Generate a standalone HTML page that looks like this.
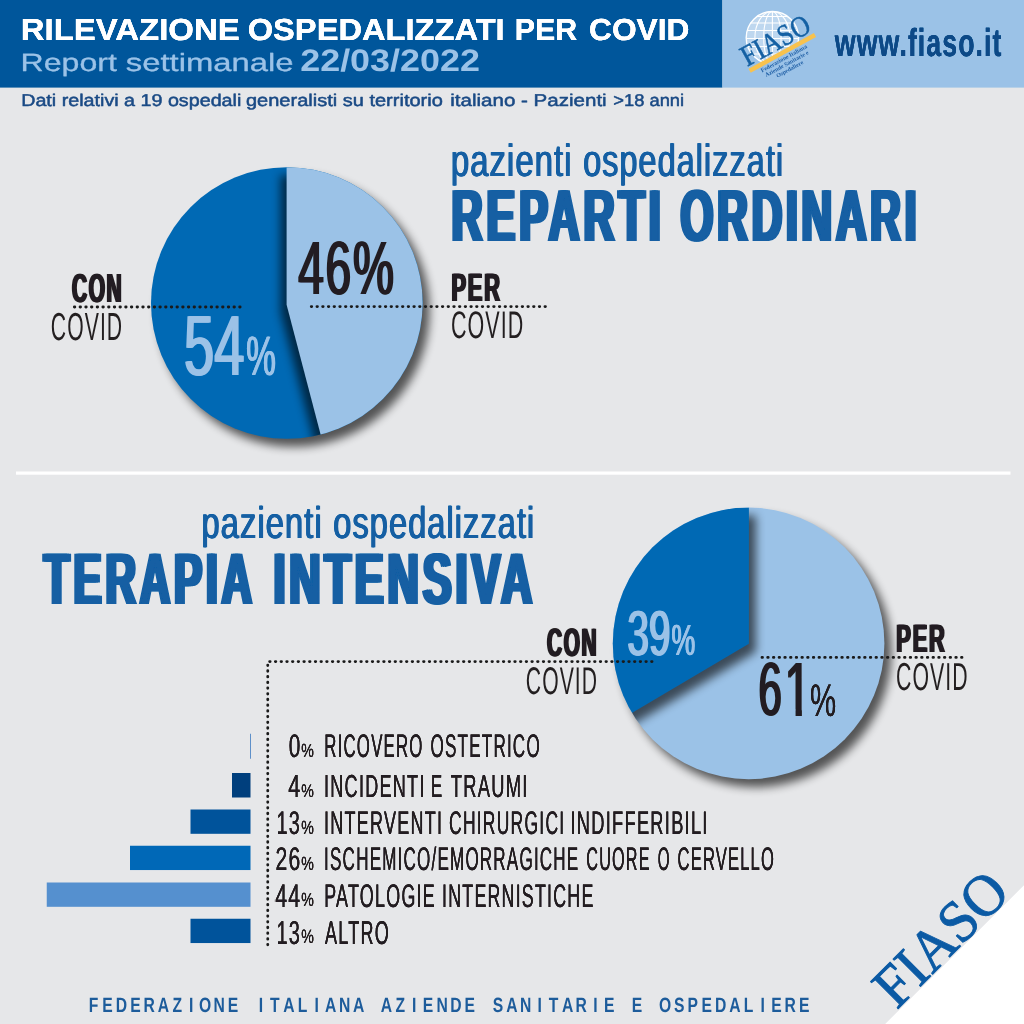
<!DOCTYPE html>
<html lang="it"><head><meta charset="utf-8"><title>FIASO - Rilevazione ospedalizzati per Covid</title>
<style>html,body{margin:0;padding:0;background:#E6E7E9;}body{width:1024px;height:1024px;overflow:hidden;font-family:"Liberation Sans",sans-serif;}svg{display:block}</style>
</head><body>
<svg width="1024" height="1024" viewBox="0 0 1024 1024" text-rendering="geometricPrecision">
<defs>
<filter id="sh" x="-20%" y="-20%" width="140%" height="140%" color-interpolation-filters="sRGB">
<feGaussianBlur in="SourceAlpha" stdDeviation="5" result="b"/><feOffset in="b" dx="6.5" dy="8" result="o"/>
<feComponentTransfer in="o" result="s"><feFuncA type="linear" slope="0.64"/></feComponentTransfer>
<feMerge><feMergeNode in="s"/><feMergeNode in="SourceGraphic"/></feMerge></filter>
<filter id="shw1" filterUnits="userSpaceOnUse" x="100" y="100" width="400" height="400" color-interpolation-filters="sRGB">
<feGaussianBlur in="SourceAlpha" stdDeviation="5" result="b"/><feOffset in="b" dx="-6.5" dy="8" result="o"/>
<feComponentTransfer in="o" result="s"><feFuncA type="linear" slope="0.62"/></feComponentTransfer>
<feMerge><feMergeNode in="s"/><feMergeNode in="SourceGraphic"/></feMerge></filter>
<filter id="shw2" filterUnits="userSpaceOnUse" x="550" y="440" width="400" height="400" color-interpolation-filters="sRGB">
<feGaussianBlur in="SourceAlpha" stdDeviation="5" result="b"/><feOffset in="b" dx="6.5" dy="8" result="o"/>
<feComponentTransfer in="o" result="s"><feFuncA type="linear" slope="0.62"/></feComponentTransfer>
<feMerge><feMergeNode in="s"/><feMergeNode in="SourceGraphic"/></feMerge></filter>
<clipPath id="c1"><circle cx="286.8" cy="303" r="135.8"/></clipPath>
<clipPath id="c2"><circle cx="748.6" cy="643.4" r="135.8"/></clipPath>
</defs>
<rect width="1024" height="1024" fill="#E6E7E9"/>
<rect x="0" y="0" width="722.4" height="87.6" fill="#00569B"/>
<rect x="722.4" y="0" width="301.6" height="87.6" fill="#9BC2E7"/>
<rect x="16" y="471.5" width="994.5" height="3.2" fill="#FFFFFF"/>
<path d="M1024 885.2 L1024 1024 L885.2 1024 Z" fill="#FFFFFF"/>
<circle cx="286.8" cy="303.0" r="135.8" fill="#0069B4" filter="url(#sh)"/>
<g clip-path="url(#c1)"><path d="M286.6 304.7 L286.6 167.2 L470 167.2 L470 483.7 L333.5 483.7 Z" fill="#9BC2E7" filter="url(#shw1)"/></g>
<circle cx="748.6" cy="643.4" r="135.8" fill="#9BC2E7" filter="url(#sh)"/>
<g clip-path="url(#c2)"><path d="M748.9 643.7 L748.9 507.6 L565 507.6 L565 737.9 L589.7 737.9 Z" fill="#0069B4" filter="url(#shw2)"/></g>
<path d="M74.35 307 H240.2" stroke="#1A1A1A" stroke-width="2.8" stroke-dasharray="0.5 5.2" stroke-linecap="round" fill="none"/>
<path d="M311.25 306.6 H545.5" stroke="#1A1A1A" stroke-width="2.8" stroke-dasharray="0.5 5.2" stroke-linecap="round" fill="none"/>
<path d="M269.65 661.6 H652.1" stroke="#1A1A1A" stroke-width="2.8" stroke-dasharray="0.5 5.2" stroke-linecap="round" fill="none"/>
<path d="M267.75 665.05 V944.9" stroke="#1A1A1A" stroke-width="2.8" stroke-dasharray="0.5 5.2" stroke-linecap="round" fill="none"/>
<path d="M762 657.4 H962.05" stroke="#1A1A1A" stroke-width="2.8" stroke-dasharray="0.5 5.2" stroke-linecap="round" fill="none"/>
<rect x="250" y="733.75" width="0.9" height="25" fill="#4F86C6"/>
<rect x="232" y="773" width="18.5" height="24.5" fill="#003F7D"/>
<rect x="190.5" y="809.5" width="60" height="24.3" fill="#00539B"/>
<rect x="130" y="845.75" width="120.5" height="24.3" fill="#0068B7"/>
<rect x="46.75" y="882.5" width="203.75" height="24.3" fill="#5590CF"/>
<rect x="190.5" y="918.75" width="60" height="24.3" fill="#00539B"/>
<g id="logo">
<defs><clipPath id="gc"><path d="M700 0 H860 V0 L860 10.1 L730 81.3 L700 81.3 Z"/></clipPath></defs>
<g clip-path="url(#gc)" fill="none" stroke="#FFFFFF" stroke-width="1.1">
<circle cx="772.4" cy="37.7" r="26.2" stroke-width="1.4" fill="#FFFFFF" fill-opacity="0.35"/>
<ellipse cx="772.4" cy="37.7" rx="17.5" ry="26.2"/>
<ellipse cx="772.4" cy="37.7" rx="8.7" ry="26.2"/>
<path d="M772.4 11.5 V64"/>
<path d="M757 16.5 H787.8 M750.5 23 H794.3 M747.2 30.5 H797.6 M746.2 38.5 H798.6 M747.3 46.5 H797.5 M750.8 54 H794"/>
</g>
<g transform="translate(749 66.5) rotate(-28.7)">
<rect x="-1.5" y="1.8" width="74.5" height="4.5" fill="#F8C24E"/>
<text transform="translate(-1.6 -0.6) scale(0.875 1)" font-family="'Liberation Serif', serif" font-size="29.5" fill="#1460A3" stroke="#1460A3" stroke-width="0.55">FIASO</text>
<g font-family="'Liberation Serif', serif" font-weight="bold" font-size="5.9" fill="#2463A8" text-anchor="middle">
<text x="34.5" y="11.6">Federazione Italiana</text>
<text x="34.5" y="17.6">Aziende Sanitarie e</text>
<text x="34.5" y="23.6">Ospedaliere</text>
</g>
</g>
</g>

<defs>
<clipPath id="cp0"><path d="M787 650 H800.9 V717 H796.55 V709.6 H787 Z"/></clipPath>
<filter id="fat0_5" filterUnits="userSpaceOnUse" x="0" y="0" width="1024" height="1024"><feOffset in="SourceGraphic" dx="0.25" result="a"/><feOffset in="SourceGraphic" dx="-0.25" result="b"/><feMerge><feMergeNode in="a"/><feMergeNode in="b"/><feMergeNode in="SourceGraphic"/></feMerge></filter>
<filter id="fat0_6" filterUnits="userSpaceOnUse" x="0" y="0" width="1024" height="1024"><feOffset in="SourceGraphic" dx="0.3" result="a"/><feOffset in="SourceGraphic" dx="-0.3" result="b"/><feMerge><feMergeNode in="a"/><feMergeNode in="b"/><feMergeNode in="SourceGraphic"/></feMerge></filter>
<filter id="fat0_7" filterUnits="userSpaceOnUse" x="0" y="0" width="1024" height="1024"><feOffset in="SourceGraphic" dx="0.35" result="a"/><feOffset in="SourceGraphic" dx="-0.35" result="b"/><feMerge><feMergeNode in="a"/><feMergeNode in="b"/><feMergeNode in="SourceGraphic"/></feMerge></filter>
<filter id="fat0_8" filterUnits="userSpaceOnUse" x="0" y="0" width="1024" height="1024"><feOffset in="SourceGraphic" dx="0.4" result="a"/><feOffset in="SourceGraphic" dx="-0.4" result="b"/><feMerge><feMergeNode in="a"/><feMergeNode in="b"/><feMergeNode in="SourceGraphic"/></feMerge></filter>
<filter id="fat1" filterUnits="userSpaceOnUse" x="0" y="0" width="1024" height="1024"><feOffset in="SourceGraphic" dx="0.5" result="a"/><feOffset in="SourceGraphic" dx="-0.5" result="b"/><feMerge><feMergeNode in="a"/><feMergeNode in="b"/><feMergeNode in="SourceGraphic"/></feMerge></filter>
<filter id="fat1_5" filterUnits="userSpaceOnUse" x="0" y="0" width="1024" height="1024"><feOffset in="SourceGraphic" dx="0.75" result="a"/><feOffset in="SourceGraphic" dx="-0.75" result="b"/><feMerge><feMergeNode in="a"/><feMergeNode in="b"/><feMergeNode in="SourceGraphic"/></feMerge></filter>
<filter id="fat1_7" filterUnits="userSpaceOnUse" x="0" y="0" width="1024" height="1024"><feOffset in="SourceGraphic" dx="0.85" result="a"/><feOffset in="SourceGraphic" dx="-0.85" result="b"/><feMerge><feMergeNode in="a"/><feMergeNode in="b"/><feMergeNode in="SourceGraphic"/></feMerge></filter>
<filter id="fat2_2" filterUnits="userSpaceOnUse" x="0" y="0" width="1024" height="1024"><feOffset in="SourceGraphic" dx="1.1" result="a"/><feOffset in="SourceGraphic" dx="-1.1" result="b"/><feMerge><feMergeNode in="a"/><feMergeNode in="b"/><feMergeNode in="SourceGraphic"/></feMerge></filter>
<filter id="fat4_5" filterUnits="userSpaceOnUse" x="0" y="0" width="1024" height="1024"><feOffset in="SourceGraphic" dx="2.25" result="a"/><feOffset in="SourceGraphic" dx="-2.25" result="b"/><feMerge><feMergeNode in="a"/><feMergeNode in="b"/><feMergeNode in="SourceGraphic"/></feMerge></filter>
</defs>
<text transform="translate(0 1011.5) scale(0.76 1)" x="116.75 134.57 152.29 171.24 188.75 207.61 227.08 248.82 262.00 280.96 299.60 325.06 340.51 355.34 372.64 391.70 413.86 427.65 445.99 464.33 490.10 501.00 520.47 542.22 556.32 574.35 592.38 611.33 636.80 648.42 666.04 684.37 707.25 722.08 739.39 757.21 780.60 794.71 820.17 831.38 856.84 867.13 886.81 904.63 923.07 940.78 959.43 978.49 1000.65 1014.75 1032.26 1051.43" font-family="'Liberation Sans', sans-serif" font-weight="bold" font-size="20.65" fill="#1D5C9B">FEDERAZIONE ITALIANA AZIENDE SANITARIE E OSPEDALIERE</text>
<text transform="translate(20.59 70.75) scale(1.2820 1)" font-family="'Liberation Sans', sans-serif" font-size="25.00" fill="#9BC2E7" stroke="#9BC2E7" stroke-width="0.3" vector-effect="non-scaling-stroke" stroke-linejoin="round">Report</text>
<text transform="translate(125.74 70.75) scale(1.3125 1)" font-family="'Liberation Sans', sans-serif" font-size="25.00" fill="#9BC2E7" stroke="#9BC2E7" stroke-width="0.3" vector-effect="non-scaling-stroke" stroke-linejoin="round">settimanale</text>
<text transform="translate(300.17 70.75) scale(1.1567 1)" font-family="'Liberation Sans', sans-serif" font-size="31.07" font-weight="bold" fill="#9BC2E7">22/03/2022</text>
<text transform="translate(21.17 106.25) scale(1.1579 1)" font-family="'Liberation Sans', sans-serif" font-size="17.03" fill="#1A4A85" stroke="#1A4A85" stroke-width="0.5" vector-effect="non-scaling-stroke" stroke-linejoin="round">Dati relativi a 19 ospedali</text>
<text transform="translate(245.95 106.25) scale(1.1761 1)" font-family="'Liberation Sans', sans-serif" font-size="17.03" fill="#1A4A85" stroke="#1A4A85" stroke-width="0.5" vector-effect="non-scaling-stroke" stroke-linejoin="round">generalisti su territorio</text>
<text transform="translate(450.27 106.25) scale(1.2069 1)" font-family="'Liberation Sans', sans-serif" font-size="17.03" fill="#1A4A85" stroke="#1A4A85" stroke-width="0.5" vector-effect="non-scaling-stroke" stroke-linejoin="round">italiano - Pazienti</text>
<text transform="translate(613.27 106.25) scale(1.0769 1)" font-family="'Liberation Sans', sans-serif" font-size="17.03" fill="#1A4A85" stroke="#1A4A85" stroke-width="0.5" vector-effect="non-scaling-stroke" stroke-linejoin="round">&gt;18 anni</text>
<text transform="translate(50.84 339.61) scale(0.5418 1)" font-family="'Liberation Sans', sans-serif" font-size="39.08" fill="#231F20" letter-spacing="1.95">COVID</text>
<text transform="translate(450.93 338.42) scale(0.5583 1)" font-family="'Liberation Sans', sans-serif" font-size="38.45" fill="#231F20" letter-spacing="1.92">COVID</text>
<text transform="translate(525.84 693.61) scale(0.5476 1)" font-family="'Liberation Sans', sans-serif" font-size="38.59" fill="#231F20" letter-spacing="1.93">COVID</text>
<text transform="translate(896.04 689.61) scale(0.5448 1)" font-family="'Liberation Sans', sans-serif" font-size="39.01" fill="#231F20" letter-spacing="1.95">COVID</text>
<g transform="translate(953.5 953.5) rotate(-45)"><text transform="translate(-80.18 0.00) scale(0.9526 1)" font-family="'Liberation Serif', serif" font-size="59.23" fill="#0B5AA4" stroke="#0B5AA4" stroke-width="0.9" vector-effect="non-scaling-stroke" stroke-linejoin="round">FIASO</text></g>
<g filter="url(#fat0_5)">
<text transform="translate(20.77 40.00) scale(1.0848 1)" font-family="'Liberation Sans', sans-serif" font-size="30.36" font-weight="bold" fill="#FFFFFF">RILEVAZIONE</text>
<text transform="translate(247.69 40.00) scale(1.0755 1)" font-family="'Liberation Sans', sans-serif" font-size="30.36" font-weight="bold" fill="#FFFFFF">OSPEDALIZZATI</text>
<text transform="translate(514.68 40.00) scale(1.0004 1)" font-family="'Liberation Sans', sans-serif" font-size="30.36" font-weight="bold" fill="#FFFFFF">PER</text>
<text transform="translate(588.98 40.00) scale(1.0458 1)" font-family="'Liberation Sans', sans-serif" font-size="30.36" font-weight="bold" fill="#FFFFFF">COVID</text>
<text transform="translate(301.33 756.81) scale(0.7445 1)" font-family="'Liberation Sans', sans-serif" font-size="19.01" fill="#231F20">%</text>
<text transform="translate(301.33 797.07) scale(0.7732 1)" font-family="'Liberation Sans', sans-serif" font-size="18.31" fill="#231F20">%</text>
<text transform="translate(301.33 833.81) scale(0.7445 1)" font-family="'Liberation Sans', sans-serif" font-size="19.01" fill="#231F20">%</text>
<text transform="translate(301.33 870.06) scale(0.7445 1)" font-family="'Liberation Sans', sans-serif" font-size="19.01" fill="#231F20">%</text>
<text transform="translate(301.33 906.31) scale(0.7445 1)" font-family="'Liberation Sans', sans-serif" font-size="19.01" fill="#231F20">%</text>
<text transform="translate(301.33 943.31) scale(0.7310 1)" font-family="'Liberation Sans', sans-serif" font-size="19.37" fill="#231F20">%</text>
</g>
<g filter="url(#fat0_6)">
<text transform="translate(810.02 715.54) scale(0.6422 1)" font-family="'Liberation Sans', sans-serif" font-size="45.77" fill="#231F20">%</text>
</g>
<g filter="url(#fat0_7)">
<text transform="translate(834.87 55.50) scale(0.6843 1)" font-family="'Liberation Sans', sans-serif" font-size="39.04" font-weight="bold" fill="#0F4A87" letter-spacing="1.56">www.fiaso.it</text>
</g>
<g filter="url(#fat0_8)">
<text transform="translate(288.78 757.00) scale(0.6384 1)" font-family="'Liberation Sans', sans-serif" font-size="32.61" fill="#231F20" letter-spacing="1.96">0</text>
<text transform="translate(324.30 757.00) scale(0.5166 1)" font-family="'Liberation Sans', sans-serif" font-size="32.61" fill="#231F20" letter-spacing="2.28">RICOVERO</text>
<text transform="translate(430.47 757.00) scale(0.5238 1)" font-family="'Liberation Sans', sans-serif" font-size="32.61" fill="#231F20" letter-spacing="2.28">OSTETRICO</text>
<text transform="translate(288.22 797.25) scale(0.6734 1)" font-family="'Liberation Sans', sans-serif" font-size="31.88" fill="#231F20" letter-spacing="1.91">4</text>
<text transform="translate(324.02 797.25) scale(0.5664 1)" font-family="'Liberation Sans', sans-serif" font-size="31.88" fill="#231F20" letter-spacing="2.23">INCIDENTI</text>
<text transform="translate(431.06 797.25) scale(0.5246 1)" font-family="'Liberation Sans', sans-serif" font-size="31.88" fill="#231F20" letter-spacing="2.23">E</text>
<text transform="translate(450.78 797.25) scale(0.5749 1)" font-family="'Liberation Sans', sans-serif" font-size="31.88" fill="#231F20" letter-spacing="2.23">TRAUMI</text>
<text transform="translate(276.51 834.00) scale(0.6098 1)" font-family="'Liberation Sans', sans-serif" font-size="32.61" fill="#231F20" letter-spacing="1.96">13</text>
<text transform="translate(324.03 834.00) scale(0.5514 1)" font-family="'Liberation Sans', sans-serif" font-size="32.61" fill="#231F20" letter-spacing="2.28">INTERVENTI</text>
<text transform="translate(449.02 834.00) scale(0.5370 1)" font-family="'Liberation Sans', sans-serif" font-size="32.61" fill="#231F20" letter-spacing="2.28">CHIRURGICI</text>
<text transform="translate(570.51 834.00) scale(0.5594 1)" font-family="'Liberation Sans', sans-serif" font-size="32.61" fill="#231F20" letter-spacing="2.28">INDIFFERIBILI</text>
<text transform="translate(275.59 870.25) scale(0.6480 1)" font-family="'Liberation Sans', sans-serif" font-size="32.61" fill="#231F20" letter-spacing="1.96">26</text>
<text transform="translate(324.12 870.25) scale(0.5230 1)" font-family="'Liberation Sans', sans-serif" font-size="32.61" fill="#231F20" letter-spacing="2.28">ISCHEMICO/EMORRAGICHE</text>
<text transform="translate(586.34 870.25) scale(0.4974 1)" font-family="'Liberation Sans', sans-serif" font-size="32.61" fill="#231F20" letter-spacing="2.28">CUORE</text>
<text transform="translate(657.79 870.25) scale(0.4644 1)" font-family="'Liberation Sans', sans-serif" font-size="32.61" fill="#231F20" letter-spacing="2.28">O</text>
<text transform="translate(677.57 870.25) scale(0.5086 1)" font-family="'Liberation Sans', sans-serif" font-size="32.61" fill="#231F20" letter-spacing="2.28">CERVELLO</text>
<text transform="translate(275.22 906.50) scale(0.6522 1)" font-family="'Liberation Sans', sans-serif" font-size="32.61" fill="#231F20" letter-spacing="1.96">44</text>
<text transform="translate(324.22 906.50) scale(0.5492 1)" font-family="'Liberation Sans', sans-serif" font-size="32.61" fill="#231F20" letter-spacing="2.28">PATOLOGIE</text>
<text transform="translate(442.05 906.50) scale(0.5451 1)" font-family="'Liberation Sans', sans-serif" font-size="32.61" fill="#231F20" letter-spacing="2.28">INTERNISTICHE</text>
<text transform="translate(276.51 943.50) scale(0.6031 1)" font-family="'Liberation Sans', sans-serif" font-size="32.97" fill="#231F20" letter-spacing="1.98">13</text>
<text transform="translate(324.90 943.50) scale(0.5468 1)" font-family="'Liberation Sans', sans-serif" font-size="32.97" fill="#231F20" letter-spacing="2.31">ALTRO</text>
</g>
<g filter="url(#fat1)">
<text transform="translate(450.42 175.70) scale(0.7297 1)" font-family="'Liberation Sans', sans-serif" font-size="45.21" fill="#125EA3" letter-spacing="1.36">pazienti</text>
<text transform="translate(582.70 175.70) scale(0.7201 1)" font-family="'Liberation Sans', sans-serif" font-size="45.21" fill="#125EA3" letter-spacing="1.36">ospedalizzati</text>
<text transform="translate(245.75 374.94) scale(0.6010 1)" font-family="'Liberation Sans', sans-serif" font-size="55.63" fill="#9BC2E7">%</text>
<text transform="translate(201.03 538.00) scale(0.7387 1)" font-family="'Liberation Sans', sans-serif" font-size="44.52" fill="#125EA3" letter-spacing="1.34">pazienti</text>
<text transform="translate(332.69 538.00) scale(0.7355 1)" font-family="'Liberation Sans', sans-serif" font-size="44.52" fill="#125EA3" letter-spacing="1.34">ospedalizzati</text>
<text transform="translate(670.95 655.06) scale(0.6140 1)" font-family="'Liberation Sans', sans-serif" font-size="43.66" fill="#9BC2E7">%</text>
</g>
<g filter="url(#fat1_5)">
<text transform="translate(184.08 374.64) scale(0.6340 1)" font-family="'Liberation Sans', sans-serif" font-size="85.56" fill="#9BC2E7">54</text>
<text transform="translate(627.60 654.87) scale(0.6053 1)" font-family="'Liberation Sans', sans-serif" font-size="63.38" fill="#9BC2E7">39</text>
</g>
<g filter="url(#fat1_7)">
<text transform="translate(71.91 302.49) scale(0.5152 1)" font-family="'Liberation Sans', sans-serif" font-size="40.56" font-weight="bold" fill="#231F20" letter-spacing="3.25">CON</text>
<text transform="translate(451.54 300.90) scale(0.5496 1)" font-family="'Liberation Sans', sans-serif" font-size="39.71" font-weight="bold" fill="#231F20" letter-spacing="3.18">PER</text>
<text transform="translate(546.92 656.20) scale(0.5245 1)" font-family="'Liberation Sans', sans-serif" font-size="39.72" font-weight="bold" fill="#231F20" letter-spacing="3.18">CON</text>
<text transform="translate(896.34 652.10) scale(0.5510 1)" font-family="'Liberation Sans', sans-serif" font-size="39.57" font-weight="bold" fill="#231F20" letter-spacing="3.17">PER</text>
</g>
<g filter="url(#fat2_2)">
<text transform="translate(298.18 293.99) scale(0.6080 1)" font-family="'Liberation Sans', sans-serif" font-size="75.70" fill="#231F20" letter-spacing="3.03">46%</text>
<text transform="translate(758.41 715.49) scale(0.5523 1)" font-family="'Liberation Sans', sans-serif" font-size="75.70" fill="#231F20">6</text>
<g clip-path="url(#cp0)"><text transform="translate(784.62 715.60) scale(0.6180 1)" font-family="'Liberation Sans', sans-serif" font-size="77.20" fill="#231F20">1</text></g>
</g>
<g filter="url(#fat4_5)">
<text transform="translate(451.57 241.20) scale(0.5849 1)" font-family="'Liberation Sans', sans-serif" font-size="73.62" font-weight="bold" fill="#125EA3" letter-spacing="6.63">REPARTI</text>
<text transform="translate(680.56 241.20) scale(0.5747 1)" font-family="'Liberation Sans', sans-serif" font-size="73.62" font-weight="bold" fill="#125EA3" letter-spacing="6.63">ORDINARI</text>
<text transform="translate(43.83 603.75) scale(0.5769 1)" font-family="'Liberation Sans', sans-serif" font-size="73.19" font-weight="bold" fill="#125EA3" letter-spacing="6.59">TERAPIA</text>
<text transform="translate(273.40 603.75) scale(0.5914 1)" font-family="'Liberation Sans', sans-serif" font-size="73.19" font-weight="bold" fill="#125EA3" letter-spacing="6.59">INTENSIVA</text>
</g>

</svg>
</body></html>
